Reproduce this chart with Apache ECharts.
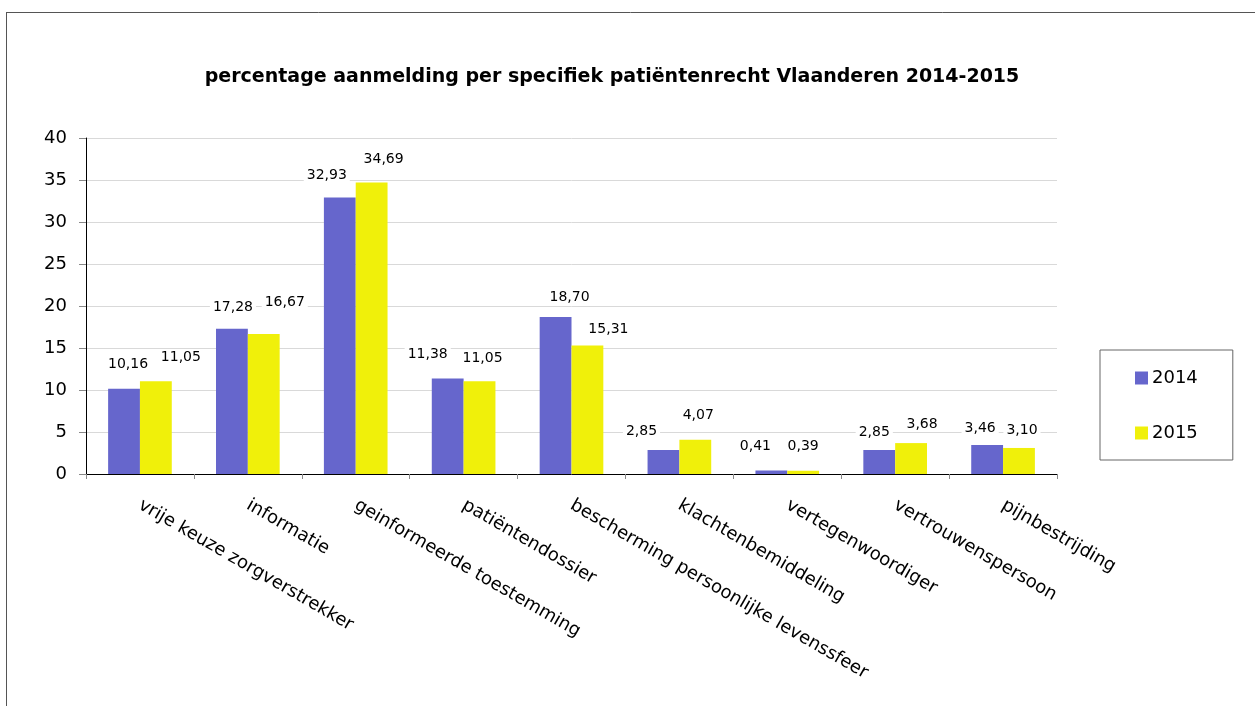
<!DOCTYPE html>
<html>
<head>
<meta charset="utf-8">
<script src="https://cdn.jsdelivr.net/npm/echarts@6/dist/echarts.min.js"></script>
<style>
html,body{margin:0;padding:0;background:#fff;}
#c{width:1255px;height:706px;}
</style>
</head>
<body>
<div id="c"></div>
<script>
// ---- data ----
var categories = ['vrije keuze zorgverstrekker','informatie','geinformeerde toestemming','patiëntendossier','bescherming persoonlijke levenssfeer','klachtenbemiddeling','vertegenwoordiger','vertrouwenspersoon','pijnbestrijding'];
var seriesNames = ['2014','2015'];
var values2014 = [10.16, 17.28, 32.93, 11.38, 18.70, 2.85, 0.41, 2.85, 3.46];
var values2015 = [11.05, 16.67, 34.69, 11.05, 15.31, 4.07, 0.39, 3.68, 3.10];
var yTicks = {min: 0, max: 40, interval: 5};

// label nudges (label centre relative to bar-top centre), styling only
var labelNudge2014 = [[4,-24],[1,-21],[-13,-22],[-20,-24],[14,-20],[-22,-19],[-16,-24],[-5,-18],[-7,-17]];
var labelNudge2015 = [[25,-24],[21,-32],[12,-23],[3,-23],[21,-16],[3,-24],[0,-24],[11,-19],[3,-18]];

var FONT = 'DejaVu Sans';
function fmt(v){ return v.toFixed(2).replace('.', ','); }
function buildData(vals, nudges){
  return vals.map(function(v,i){
    return {value: v, label: {offset: [nudges[i][0], nudges[i][1] + 8]}};
  });
}
var labelBase = {
  show: true, position: 'top', distance: 0,
  fontFamily: FONT, fontSize: 14, color: '#000',
  backgroundColor: '#fff', padding: [1, 3], lineHeight: 14,
  formatter: function(p){ return fmt(p.value); }
};

var chart = echarts.init(document.getElementById('c'), null, {renderer: 'canvas'});
chart.setOption({
  backgroundColor: '#fff',
  animation: false,
  title: {
    text: 'percentage aanmelding per specifiek patiëntenrecht Vlaanderen 2014-2015',
    left: 607, top: 63, textAlign: 'center',
    textStyle: {fontFamily: FONT, fontWeight: 'bold', fontSize: 19, color: '#000'}
  },
  legend: {
    orient: 'vertical',
    left: 1100, top: 350,
    padding: [19, 35, 18, 35],
    itemGap: 37,
    itemWidth: 13, itemHeight: 13,
    icon: 'rect',
    itemStyle: {borderWidth: 0},
    borderColor: '#666', borderWidth: 1,
    textStyle: {fontFamily: FONT, fontSize: 18, color: '#000', padding: [0,0,0,-1]},
    data: seriesNames
  },
  grid: {left: 86, right: 198, top: 138, bottom: 232, containLabel: false},
  xAxis: {
    type: 'category',
    data: categories,
    axisLine: {lineStyle: {color: '#000', width: 1}},
    axisTick: {show: true, alignWithLabel: false, length: 5, lineStyle: {color: '#888'}},
    axisLabel: {rotate: -30, margin: 30, fontFamily: FONT, fontSize: 18, color: '#000', interval: 0}
  },
  yAxis: {
    type: 'value',
    min: yTicks.min, max: yTicks.max, interval: yTicks.interval,
    axisLine: {show: true, lineStyle: {color: '#000', width: 1}},
    axisTick: {show: true, length: 7, lineStyle: {color: '#888'}},
    axisLabel: {fontFamily: FONT, fontSize: 18, color: '#000', margin: 19},
    splitLine: {lineStyle: {color: '#d9d9d9'}}
  },
  series: [
    {name: seriesNames[0], type: 'bar', barGap: '0%', barCategoryGap: '41%',
     itemStyle: {color: '#6666cc'},
     label: labelBase, data: buildData(values2014, labelNudge2014), z: 2},
    {name: seriesNames[1], type: 'bar', barGap: '0%', barCategoryGap: '41%',
     itemStyle: {color: '#f0f00a'},
     label: labelBase, data: buildData(values2015, labelNudge2015), z: 2}
  ],
  graphic: [
    {type: 'line', shape: {x1: 6, y1: 12.5, x2: 1255, y2: 12.5}, style: {stroke: '#555', lineWidth: 1}, silent: true},
    {type: 'line', shape: {x1: 6.5, y1: 12, x2: 6.5, y2: 706}, style: {stroke: '#555', lineWidth: 1}, silent: true}
  ]
});
</script>
</body>
</html>
